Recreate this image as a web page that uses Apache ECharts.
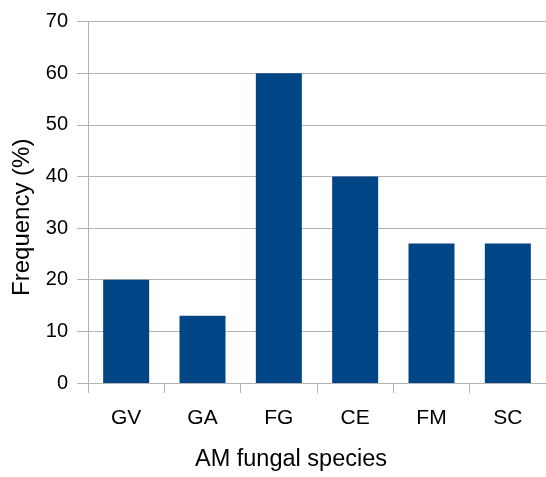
<!DOCTYPE html>
<html>
<head>
<meta charset="utf-8">
<script src="https://cdn.jsdelivr.net/npm/echarts@6/dist/echarts.min.js"></script>
<style>
html,body{margin:0;padding:0;background:#fff;}
#chart{width:546px;height:477px;}
</style>
</head>
<body>
<div id="chart"></div>
<script>
var categories = ['GV', 'GA', 'FG', 'CE', 'FM', 'SC'];
var frequency = [20, 13, 60, 40, 27, 27];
var yTicks = [0, 10, 20, 30, 40, 50, 60, 70];

var chart = echarts.init(document.getElementById('chart'), null, {renderer: 'canvas'});
var font = 'Liberation Sans, Arial, sans-serif';
chart.setOption({
  animation: false,
  backgroundColor: '#ffffff',
  grid: {left: 88, top: 21.5, width: 462, height: 367.5, containLabel: false},
  xAxis: {
    type: 'category',
    data: categories,
    boundaryGap: true,
    name: 'AM fungal species',
    nameLocation: 'middle',
    nameGap: 65,
    nameTextStyle: {fontFamily: font, fontSize: 23.5, color: '#000', padding: [0, 52, 0, 0]},
    axisLine: {show: true, lineStyle: {color: '#b3b3b3', width: 1}},
    axisTick: {show: true, length: 10, alignWithLabel: false, lineStyle: {color: '#b3b3b3'}},
    axisLabel: {fontFamily: font, fontSize: 21, color: '#000', margin: 25},
    splitLine: {show: false}
  },
  yAxis: {
    type: 'value',
    min: yTicks[0],
    max: yTicks[yTicks.length - 1],
    interval: 10,
    name: 'Frequency (%)',
    nameLocation: 'middle',
    nameGap: 54,
    nameTextStyle: {fontFamily: font, fontSize: 24, color: '#000', padding: [0, 30, 0, 0]},
    axisLine: {show: true, lineStyle: {color: '#b3b3b3', width: 1}},
    axisTick: {show: true, length: 11, lineStyle: {color: '#b3b3b3'}},
    axisLabel: {fontFamily: font, fontSize: 20, color: '#000', margin: 20},
    splitLine: {show: true, lineStyle: {color: '#b3b3b3', width: 1}}
  },
  series: [{
    type: 'bar',
    data: frequency,
    barWidth: 46,
    itemStyle: {color: '#004586'}
  }]
});
</script>
</body>
</html>
